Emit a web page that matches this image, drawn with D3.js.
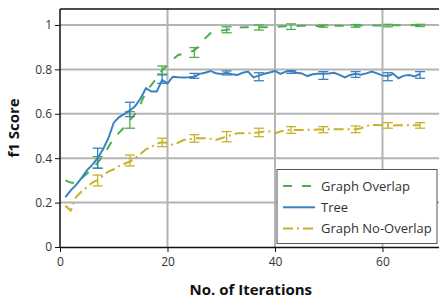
<!DOCTYPE html>
<html>
<head>
<meta charset="utf-8">
<script src="https://cdn.jsdelivr.net/npm/d3@7"></script>
<style>
  body { margin: 0; background: #fff; }
  svg { display: block; font-family: "Open Sans", "Noto Sans", sans-serif; }
</style>
</head>
<body>
<svg id="chart" width="439" height="299"></svg>
<script>
// iterations 1..67
const iterations = d3.range(1, 68);
const seriesNames = ["Graph Overlap", "Tree", "Graph No-Overlap"];

const overlap = [0.30, 0.29, 0.287, 0.31, 0.33, 0.355, 0.38, 0.41, 0.45, 0.49,
  0.515, 0.54, 0.57, 0.60, 0.645, 0.70, 0.73, 0.76, 0.795, 0.82,
  0.845, 0.865, 0.87, 0.878, 0.885, 0.91, 0.94, 0.963, 0.972, 0.975,
  0.978, 0.982, 0.988, 0.99, 0.99, 0.99, 0.99, 0.99, 0.99, 0.992,
  0.993, 0.994, 0.995, 0.995, 0.996, 0.996, 0.997, 0.995, 0.995, 0.996,
  0.996, 0.997, 0.997, 0.997, 0.997, 0.998, 0.998, 0.998, 0.998, 0.998,
  0.998, 0.999, 0.999, 0.999, 0.999, 1.0, 1.0];

const tree = [0.225, 0.255, 0.28, 0.31, 0.345, 0.37, 0.40, 0.44, 0.49, 0.56,
  0.585, 0.60, 0.615, 0.635, 0.67, 0.715, 0.70, 0.70, 0.752, 0.737,
  0.767, 0.765, 0.764, 0.765, 0.767, 0.78, 0.785, 0.793, 0.783, 0.779,
  0.785, 0.778, 0.775, 0.785, 0.79, 0.764, 0.772, 0.78, 0.786, 0.793,
  0.78, 0.79, 0.793, 0.785, 0.782, 0.77, 0.778, 0.78, 0.78, 0.782,
  0.785, 0.775, 0.764, 0.775, 0.78, 0.776, 0.782, 0.79, 0.782, 0.772,
  0.77, 0.78, 0.76, 0.772, 0.775, 0.768, 0.78];

const noOverlap = [0.186, 0.164, 0.225, 0.25, 0.27, 0.29, 0.302, 0.32, 0.34, 0.35,
  0.365, 0.375, 0.385, 0.40, 0.42, 0.44, 0.452, 0.465, 0.472, 0.468,
  0.46, 0.47, 0.482, 0.485, 0.49, 0.49, 0.49, 0.487, 0.482, 0.49,
  0.497, 0.505, 0.512, 0.512, 0.512, 0.514, 0.516, 0.52, 0.52, 0.512,
  0.52, 0.525, 0.527, 0.527, 0.527, 0.528, 0.528, 0.529, 0.529, 0.53,
  0.53, 0.53, 0.53, 0.53, 0.53, 0.535, 0.545, 0.55, 0.55, 0.548,
  0.547, 0.547, 0.548, 0.548, 0.548, 0.548, 0.548];

// error bars every 6 iterations
const errX = [7, 13, 19, 25, 31, 37, 43, 49, 55, 61, 67];
const overlapLo = [0.355, 0.535, 0.779, 0.854, 0.965, 0.977, 0.98, 0.99, 0.99, 0.992, 0.993];
const overlapHi = [0.407, 0.61, 0.815, 0.898, 0.992, 1.0, 1.005, 1.0, 1.002, 1.003, 1.003];
const treeLo = [0.355, 0.587, 0.737, 0.76, 0.775, 0.749, 0.782, 0.755, 0.764, 0.749, 0.76];
const treeHi = [0.445, 0.652, 0.775, 0.782, 0.793, 0.785, 0.794, 0.79, 0.79, 0.785, 0.79];
const noOverlapLo = [0.275, 0.365, 0.452, 0.472, 0.474, 0.497, 0.512, 0.515, 0.515, 0.535, 0.535];
const noOverlapHi = [0.324, 0.414, 0.49, 0.506, 0.52, 0.535, 0.542, 0.542, 0.545, 0.56, 0.56];

const xTicks = [0, 20, 40, 60];
const yTicks = [0, 0.2, 0.4, 0.6, 0.8, 1];

const svg = d3.select("#chart");
const plotLeft = 60, plotRight = 441.6, plotTop = 9, plotBottom = 247;
const gridColor = "#b4b4b4";
const textColor = "#333";

const x = d3.scaleLinear().domain([0, 71]).range([plotLeft, plotRight]);
const y = d3.scaleLinear().domain([0, 1.072]).range([plotBottom, plotTop]);

// grid
const grid = svg.append("g");
grid.selectAll(".vg")
  .data(xTicks.filter(d => d > 0))
  .join("line")
  .attr("x1", d => x(d)).attr("x2", d => x(d))
  .attr("y1", plotTop).attr("y2", plotBottom)
  .attr("stroke", gridColor).attr("stroke-width", 2);
grid.selectAll(".hg")
  .data(yTicks.filter(d => d > 0))
  .join("line")
  .attr("x1", plotLeft).attr("x2", plotRight)
  .attr("y1", d => y(d)).attr("y2", d => y(d))
  .attr("stroke", gridColor).attr("stroke-width", 2);

// top frame
svg.append("line")
  .attr("x1", plotLeft).attr("x2", plotRight)
  .attr("y1", plotTop).attr("y2", plotTop)
  .attr("stroke", "#111").attr("stroke-width", 1.5);

const series = [
  { name: seriesNames[0], values: overlap, lo: overlapLo, hi: overlapHi, color: "#4cae4c", dash: "9,10" },
  { name: seriesNames[1], values: tree, lo: treeLo, hi: treeHi, color: "#3b80c0", dash: null },
  { name: seriesNames[2], values: noOverlap, lo: noOverlapLo, hi: noOverlapHi, color: "#c9b228", dash: "10,4,2,4" }
];

const line = d3.line()
  .x((d, i) => x(iterations[i]))
  .y(d => y(d));

const plot = svg.append("g");
series.forEach(s => {
  plot.append("path")
    .datum(s.values)
    .attr("d", line)
    .attr("fill", "none")
    .attr("stroke", s.color)
    .attr("stroke-width", 2)
    .attr("stroke-dasharray", s.dash);

  const eb = plot.append("g")
    .attr("stroke", s.color)
    .attr("stroke-width", 1.3);
  errX.forEach((xv, i) => {
    const cx = x(xv), y0 = y(s.lo[i]), y1 = y(s.hi[i]);
    eb.append("line").attr("x1", cx).attr("x2", cx).attr("y1", y0).attr("y2", y1);
    eb.append("line").attr("x1", cx - 5).attr("x2", cx + 5).attr("y1", y0).attr("y2", y0);
    eb.append("line").attr("x1", cx - 5).attr("x2", cx + 5).attr("y1", y1).attr("y2", y1);
  });
});

// axes
const xAxis = svg.append("g")
  .attr("transform", "translate(0," + plotBottom + ")")
  .call(d3.axisBottom(x).tickValues(xTicks).tickSize(5).tickSizeOuter(0).tickPadding(5));
const yAxis = svg.append("g")
  .attr("transform", "translate(" + plotLeft + ",0)")
  .call(d3.axisLeft(y).tickValues(yTicks).tickSize(5).tickSizeOuter(0).tickPadding(3)
    .tickFormat(d => d3.format("")(d)));

[xAxis, yAxis].forEach(a => {
  a.select(".domain").attr("stroke", "#111").attr("stroke-width", 1.5);
  a.selectAll(".tick line").attr("stroke", "#111").attr("stroke-width", 1);
  a.selectAll(".tick text")
    .attr("fill", textColor)
    .style("font-family", "'Open Sans', 'Noto Sans', sans-serif")
    .style("font-size", "12px");
});
yAxis.select(".domain").attr("d", "M0," + plotBottom + "V" + plotTop);

// axis titles
svg.append("text")
  .attr("x", (plotLeft + plotRight) / 2)
  .attr("y", 295)
  .attr("text-anchor", "middle")
  .attr("font-weight", "bold")
  .attr("font-size", "15px")
  .attr("fill", "#111")
  .text("No. of Iterations");

svg.append("text")
  .attr("transform", "translate(19," + ((plotTop + plotBottom) / 2) + ") rotate(-90)")
  .attr("text-anchor", "middle")
  .attr("font-weight", "bold")
  .attr("font-size", "15px")
  .attr("fill", "#111")
  .text("f1 Score");

// legend
const legend = svg.append("g");
legend.append("rect")
  .attr("x", 277).attr("y", 169.5)
  .attr("width", 160).attr("height", 74)
  .attr("fill", "#fff")
  .attr("stroke", "#555").attr("stroke-width", 1);

series.forEach((s, i) => {
  const ly = 186 + i * 21.3;
  legend.append("line")
    .attr("x1", 283).attr("x2", 315)
    .attr("y1", ly).attr("y2", ly)
    .attr("stroke", s.color).attr("stroke-width", 2)
    .attr("stroke-dasharray", s.dash);
  legend.append("text")
    .attr("x", 321).attr("y", ly)
    .attr("dy", "0.35em")
    .attr("font-size", "13px")
    .attr("fill", textColor)
    .text(s.name);
});
</script>
</body>
</html>
